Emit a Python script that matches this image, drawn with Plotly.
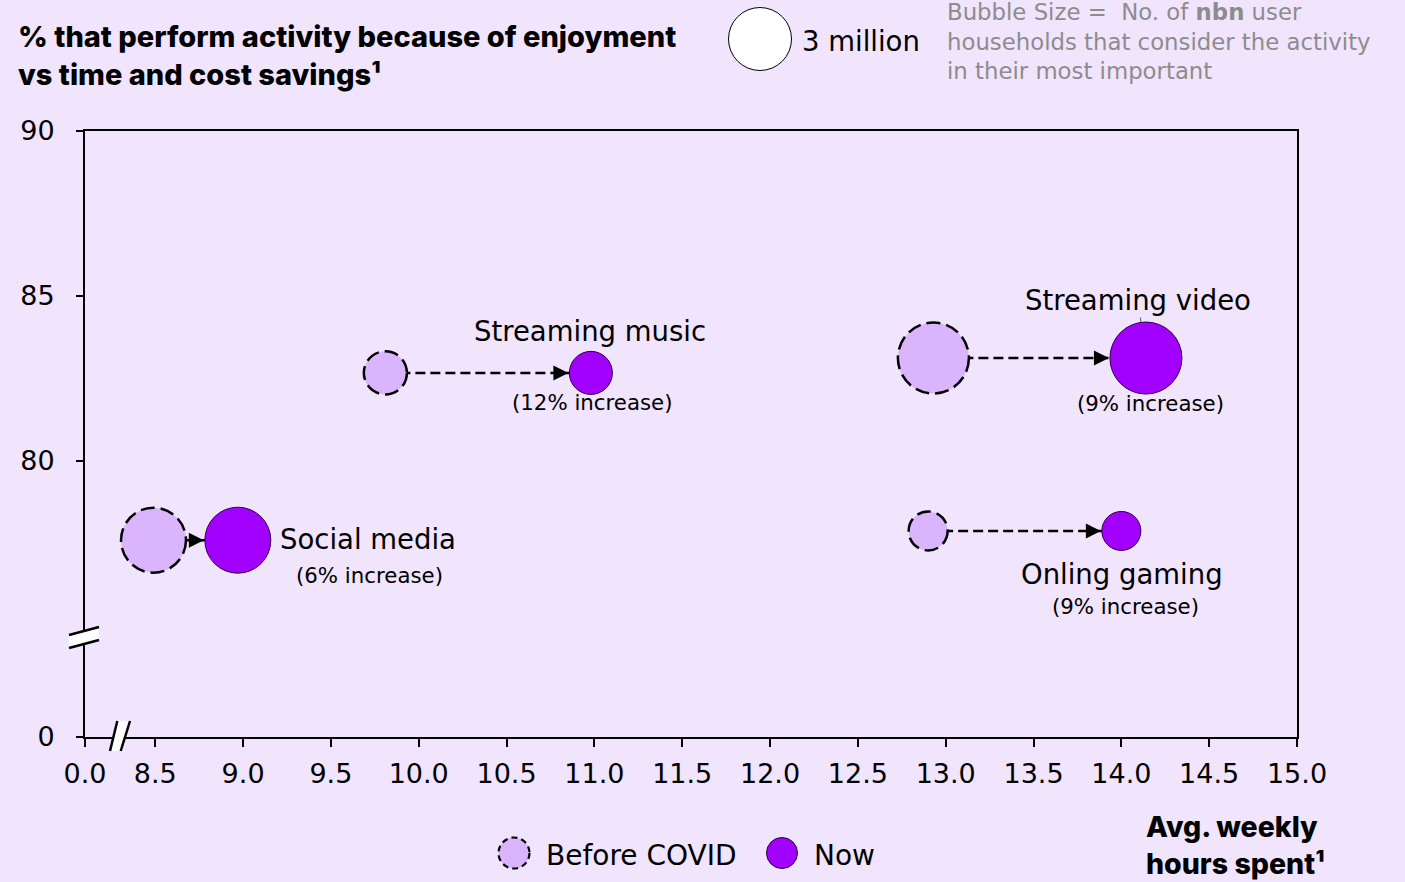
import math
import plotly.graph_objects as go

# ---------------- data ----------------
activities = ["Social media", "Streaming music", "Streaming video", "Onling gaming"]
increase_labels = ["(6% increase)", "(12% increase)", "(9% increase)", "(9% increase)"]
hours_before = [8.49, 9.81, 12.93, 12.90]
hours_now = [8.97, 10.98, 14.14, 14.00]
enjoy_pct = [77.6, 82.67, 83.12, 77.88]
households_before_m = [3.19, 1.40, 3.81, 1.15]
households_now_m = [3.29, 1.40, 3.92, 1.15]
legend_households_m = 3.0

x_tickvals = [8.1, 8.5, 9.0, 9.5, 10.0, 10.5, 11.0, 11.5, 12.0, 12.5, 13.0, 13.5, 14.0, 14.5, 15.0]
x_ticktext = ["0.0", "8.5", "9.0", "9.5", "10.0", "10.5", "11.0", "11.5", "12.0", "12.5",
              "13.0", "13.5", "14.0", "14.5", "15.0"]
y_tickvals = [71.64, 80, 85, 90]
y_ticktext = ["0", "80", "85", "90"]

# ---------------- styles / layout constants ----------------
BG = "#F1E4FD"
BEFORE_FILL = "#DAB4FC"
NOW_FILL = "#A100FF"
FONT = "DejaVu Sans"
BOLD_FONT = "Inter"
W, H = 1405, 882
ML, MR, MT, MB = 85, 108, 131, 145
PW, PH = W - ML - MR, H - MT - MB
SIZEREF = 3.0 / 63 ** 2   # 3 million households -> 63 px bubble


def diam(v):
    return math.sqrt(v / SIZEREF)


def pxx(px):
    return (px - ML) / PW


def pxy(py):
    return (H - MB - py) / PH


# label offsets in pixels (name: xshift, yshift, xanchor) (increase: xshift, yshift)
name_offsets = [(40, 1, "left"), (-1, 42, "center"), (-8, 58, "center"), (1, -43, "center")]
incr_offsets = [(132, -35), (2, -30), (5, -45), (4, -76)]

fig = go.Figure()

# dashed connectors
for i in range(len(activities)):
    fig.add_trace(go.Scatter(
        x=[hours_before[i], hours_now[i]], y=[enjoy_pct[i], enjoy_pct[i]],
        mode="lines", line=dict(color="black", width=2.5, dash="10px,5px"),
        hoverinfo="skip", showlegend=False))

# plotly area mode: diameter = sqrt(2*v/sizeref)
fig.add_trace(go.Scatter(
    x=hours_before, y=enjoy_pct, mode="markers", name="Before COVID",
    marker=dict(size=households_before_m, sizemode="area", sizeref=2 * SIZEREF,
                color=BEFORE_FILL, line=dict(width=0), opacity=1),
    text=activities, showlegend=False))

fig.add_trace(go.Scatter(
    x=hours_now, y=enjoy_pct, mode="markers", name="Now",
    marker=dict(size=households_now_m, sizemode="area", sizeref=2 * SIZEREF,
                color=NOW_FILL, line=dict(width=1, color="#2a0040"), opacity=1),
    text=activities, showlegend=False))

shapes = []
annotations = []

# dashed outlines for the before bubbles
for xb, yv, hb in zip(hours_before, enjoy_pct, households_before_m):
    r = diam(hb) / 2
    shapes.append(dict(type="circle", xref="x", yref="y", xsizemode="pixel", ysizemode="pixel",
                       xanchor=xb, yanchor=yv, x0=-r, x1=r, y0=-r, y1=r,
                       line=dict(color="black", width=2.5, dash="14px,6px"),
                       fillcolor="rgba(0,0,0,0)", layer="above"))

# arrow heads + labels
for i in range(len(activities)):
    rn = diam(households_now_m[i]) / 2
    annotations.append(dict(x=hours_now[i], y=enjoy_pct[i], xref="x", yref="y", text="",
                            showarrow=True, arrowhead=2, arrowsize=1.2, arrowwidth=2.5,
                            arrowcolor="black", ax=-(rn + 16), ay=0, standoff=rn + 1))
    nx, ny, na = name_offsets[i]
    if i == 2:
        annotations.append(dict(x=hours_now[i], y=enjoy_pct[i], xref="x", yref="y",
                                text=activities[i], showarrow=True, arrowhead=0,
                                arrowwidth=0.8, arrowcolor="#333", ax=nx, ay=-ny,
                                standoff=rn, font=dict(family=FONT, size=27.5, color="black")))
    else:
        annotations.append(dict(x=hours_now[i], y=enjoy_pct[i], xref="x", yref="y",
                                text=activities[i], showarrow=False, xanchor=na,
                                yanchor="middle", xshift=nx, yshift=ny,
                                font=dict(family=FONT, size=27.5, color="black")))
    ix, iy = incr_offsets[i]
    annotations.append(dict(x=hours_now[i], y=enjoy_pct[i], xref="x", yref="y",
                            text=increase_labels[i], showarrow=False, xanchor="center",
                            yanchor="middle", xshift=ix, yshift=iy,
                            font=dict(family=FONT, size=21.3, color="black")))

# axis breaks
shapes.append(dict(type="path", xref="paper", yref="paper", xsizemode="pixel", ysizemode="pixel",
                   xanchor=0, yanchor=pxy(637),
                   path="M -16,2 L 14,10 L 14,-3 L -16,-11 Z", fillcolor="white",
                   line=dict(width=0), layer="above"))
for p in ["M -16,2 L 14,10", "M -16,-11 L 14,-3"]:
    shapes.append(dict(type="path", xref="paper", yref="paper", xsizemode="pixel",
                       ysizemode="pixel", xanchor=0, yanchor=pxy(637), path=p,
                       line=dict(color="black", width=2.5), layer="above"))
shapes.append(dict(type="path", xref="paper", yref="paper", xsizemode="pixel", ysizemode="pixel",
                   xanchor=pxx(120), yanchor=0,
                   path="M -10,-14 L -2.7,16 L 10,16 L 0.7,-14 Z", fillcolor="white",
                   line=dict(width=0), layer="above"))
for p in ["M -10,-14 L -2.7,16", "M 0.7,-14 L 10,16"]:
    shapes.append(dict(type="path", xref="paper", yref="paper", xsizemode="pixel",
                       ysizemode="pixel", xanchor=pxx(120), yanchor=0, path=p,
                       line=dict(color="black", width=2.5), layer="above"))

# size legend (top)
rl = diam(legend_households_m) / 2
shapes.append(dict(type="circle", xref="paper", yref="paper", xsizemode="pixel", ysizemode="pixel",
                   xanchor=pxx(760), yanchor=pxy(39), x0=-rl, x1=rl, y0=-rl, y1=rl,
                   fillcolor="white", line=dict(color="black", width=1)))
annotations.append(dict(xref="paper", yref="paper", x=pxx(800), y=pxy(41), xanchor="left",
                        yanchor="middle", showarrow=False, text="3 million",
                        font=dict(family=FONT, size=27.5, color="black")))
annotations.append(dict(xref="paper", yref="paper", x=pxx(945), y=pxy(41), xanchor="left",
                        yanchor="middle", showarrow=False, align="left",
                        text="Bubble Size =  No. of <b>nbn</b> user<br>households that consider the activity<br>in their most important",
                        font=dict(family=FONT, size=22.8, color="#8C8C8C")))

# bottom legend
for cx, fill, dash, lw, lc, label in [(514, BEFORE_FILL, "6px,4px", 2.2, "black", "Before COVID"),
                                      (782, NOW_FILL, "solid", 1, "#2a0040", "Now")]:
    shapes.append(dict(type="circle", xref="paper", yref="paper", xsizemode="pixel",
                       ysizemode="pixel", xanchor=pxx(cx), yanchor=pxy(853),
                       x0=-15.5, x1=15.5, y0=-15.5, y1=15.5, fillcolor=fill,
                       line=dict(color=lc, width=lw, dash=dash)))
    annotations.append(dict(xref="paper", yref="paper", x=pxx(cx + 30), y=pxy(855),
                            xanchor="left", yanchor="middle", showarrow=False, text=label,
                            font=dict(family=FONT, size=28, color="black")))

# titles
annotations.append(dict(xref="paper", yref="paper", x=pxx(16), y=pxy(55), xanchor="left",
                        yanchor="middle", showarrow=False, align="left",
                        text="% that perform activity because of enjoyment<br>vs time and cost savings¹",
                        font=dict(family=BOLD_FONT, size=29, weight=800, color="black")))
annotations.append(dict(xref="paper", yref="paper", x=pxx(1144), y=pxy(845), xanchor="left",
                        yanchor="middle", showarrow=False, align="left",
                        text="Avg. weekly<br>hours spent¹",
                        font=dict(family=BOLD_FONT, size=28.5, weight=800, color="black")))

fig.update_layout(
    width=W, height=H, autosize=False,
    margin=dict(l=ML, r=MR, t=MT, b=MB, pad=0),
    paper_bgcolor=BG, plot_bgcolor=BG,
    shapes=shapes, annotations=annotations, showlegend=False,
    xaxis=dict(range=[8.1, 15.0], tickvals=x_tickvals, ticktext=x_ticktext,
               showgrid=False, zeroline=False, showline=True, linecolor="black", linewidth=2,
               mirror=True, ticks="outside", ticklen=8, tickwidth=2, tickcolor="black",
               ticklabelstandoff=4, tickfont=dict(family=FONT, size=27, color="black")),
    yaxis=dict(range=[71.636, 90], tickvals=y_tickvals, ticktext=y_ticktext,
               showgrid=False, zeroline=False, showline=True, linecolor="black", linewidth=2,
               mirror=True, ticks="outside", ticklen=7, tickwidth=2, tickcolor="black",
               ticklabelstandoff=16, tickfont=dict(family=FONT, size=27, color="black")),
)

fig.write_html("out.html")
